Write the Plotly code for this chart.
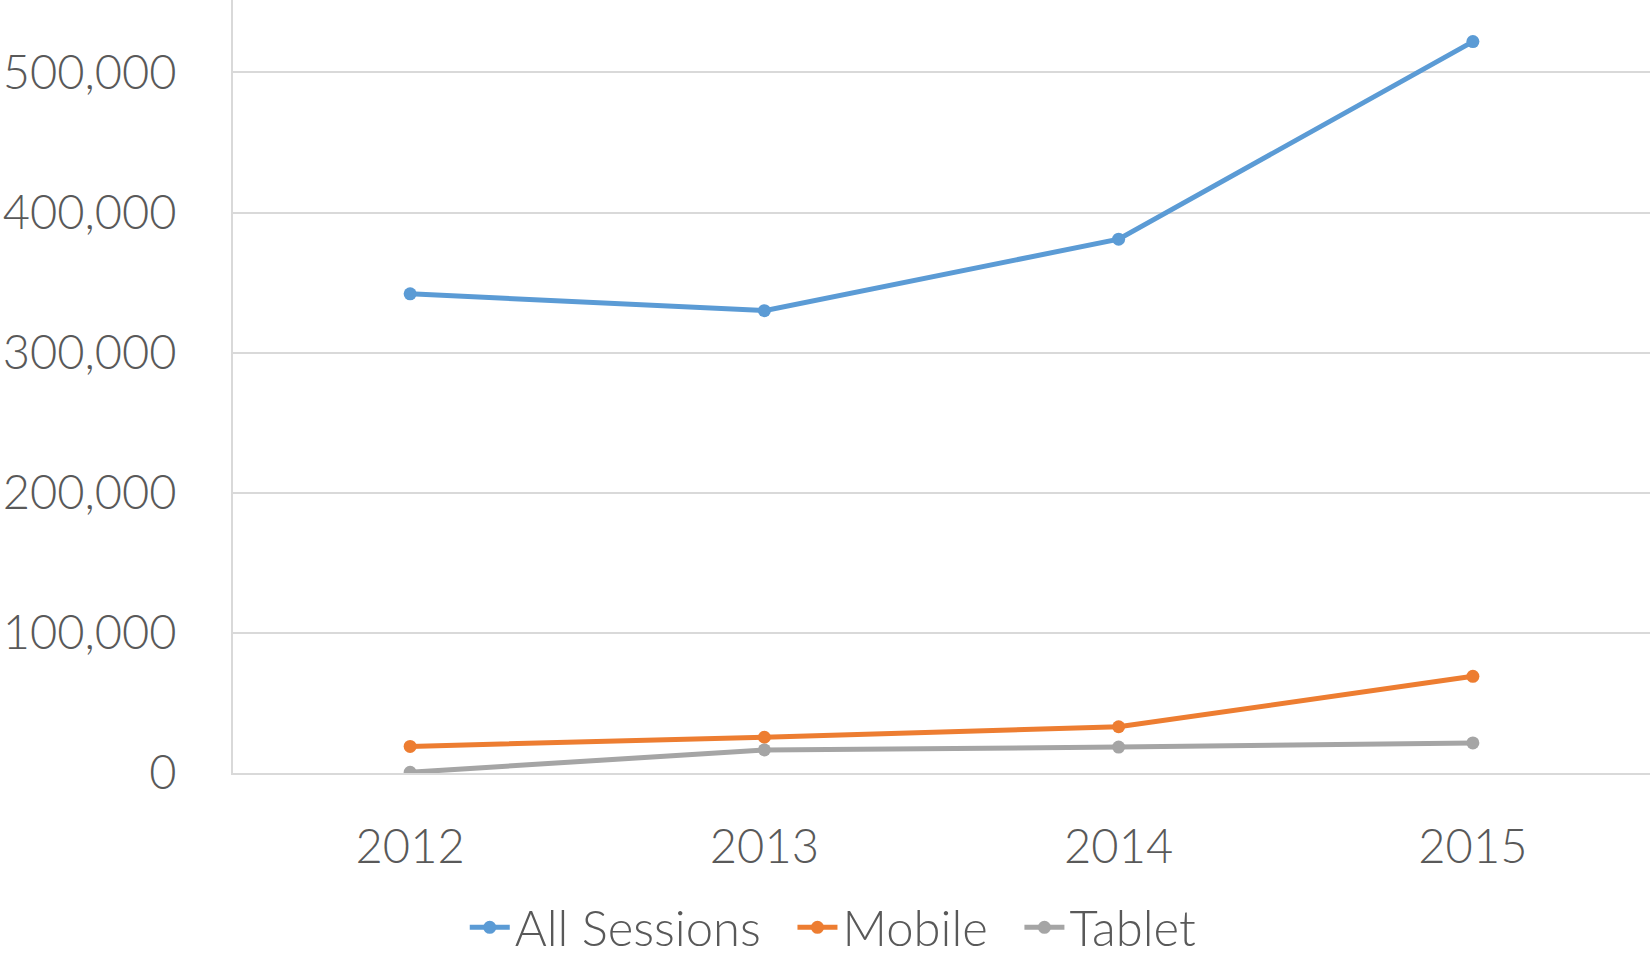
import plotly.graph_objects as go

years = ["2012", "2013", "2014", "2015"]
all_sessions = [342000, 330000, 381000, 522000]
mobile = [19000, 25500, 33000, 69000]
tablet = [500, 16500, 18500, 21500]
y_ticks = [0, 100000, 200000, 300000, 400000, 500000]
y_tick_labels = ["0", "100,000", "200,000", "300,000", "400,000", "500,000"]

NB = "\u00a0"
series = [
    ("All Sessions", all_sessions, "#5B9BD5"),
    ("Mobile", mobile, "#ED7D31"),
    ("Tablet", tablet, "#A5A5A5"),
]

FONT = "Lato"
TXT = "#595959"
GRID = "#D9D9D9"
FS = 47

fig = go.Figure()
for i, (name, vals, col) in enumerate(series):
    pad = NB * 2 if i < len(series) - 1 else ""
    fig.add_trace(go.Scatter(
        x=years, y=vals, name=name + pad, mode="lines+markers",
        line=dict(color=col, width=5),
        marker=dict(color=col, size=13),
    ))

fig.update_layout(
    width=1650, height=966,
    paper_bgcolor="white", plot_bgcolor="white",
    margin=dict(l=233, r=0, t=0, b=193, pad=0, autoexpand=False),
    font=dict(family=FONT, color=TXT, size=FS, weight=300),
    showlegend=True,
    legend=dict(
        orientation="h", xref="container", yref="container",
        x=0.505, xanchor="center", y=0, yanchor="bottom",
        font=dict(family=FONT, color=TXT, size=49, weight=300),
        itemwidth=40, tracegroupgap=0,
    ),
)
fig.update_xaxes(
    type="category", range=[-0.5, 3.5], automargin=False,
    showline=True, linecolor=GRID, linewidth=2,
    showgrid=False, ticks="", ticklabelstandoff=32,
    tickfont=dict(family=FONT, color=TXT, size=FS, weight=300),
)
fig.update_yaxes(
    range=[0, 551700], tickmode="array", tickvals=y_ticks, ticktext=y_tick_labels,
    automargin=False,
    showline=True, linecolor=GRID, linewidth=2,
    showgrid=True, gridcolor=GRID, gridwidth=2, zeroline=False,
    ticks="", ticklabelstandoff=45,
    tickfont=dict(family=FONT, color=TXT, size=FS, weight=300),
)

fig.write_html(
    "out.html",
    config={"displayModeBar": False},
    post_script="document.body.style.margin='0';document.body.style.overflow='hidden';",
)
